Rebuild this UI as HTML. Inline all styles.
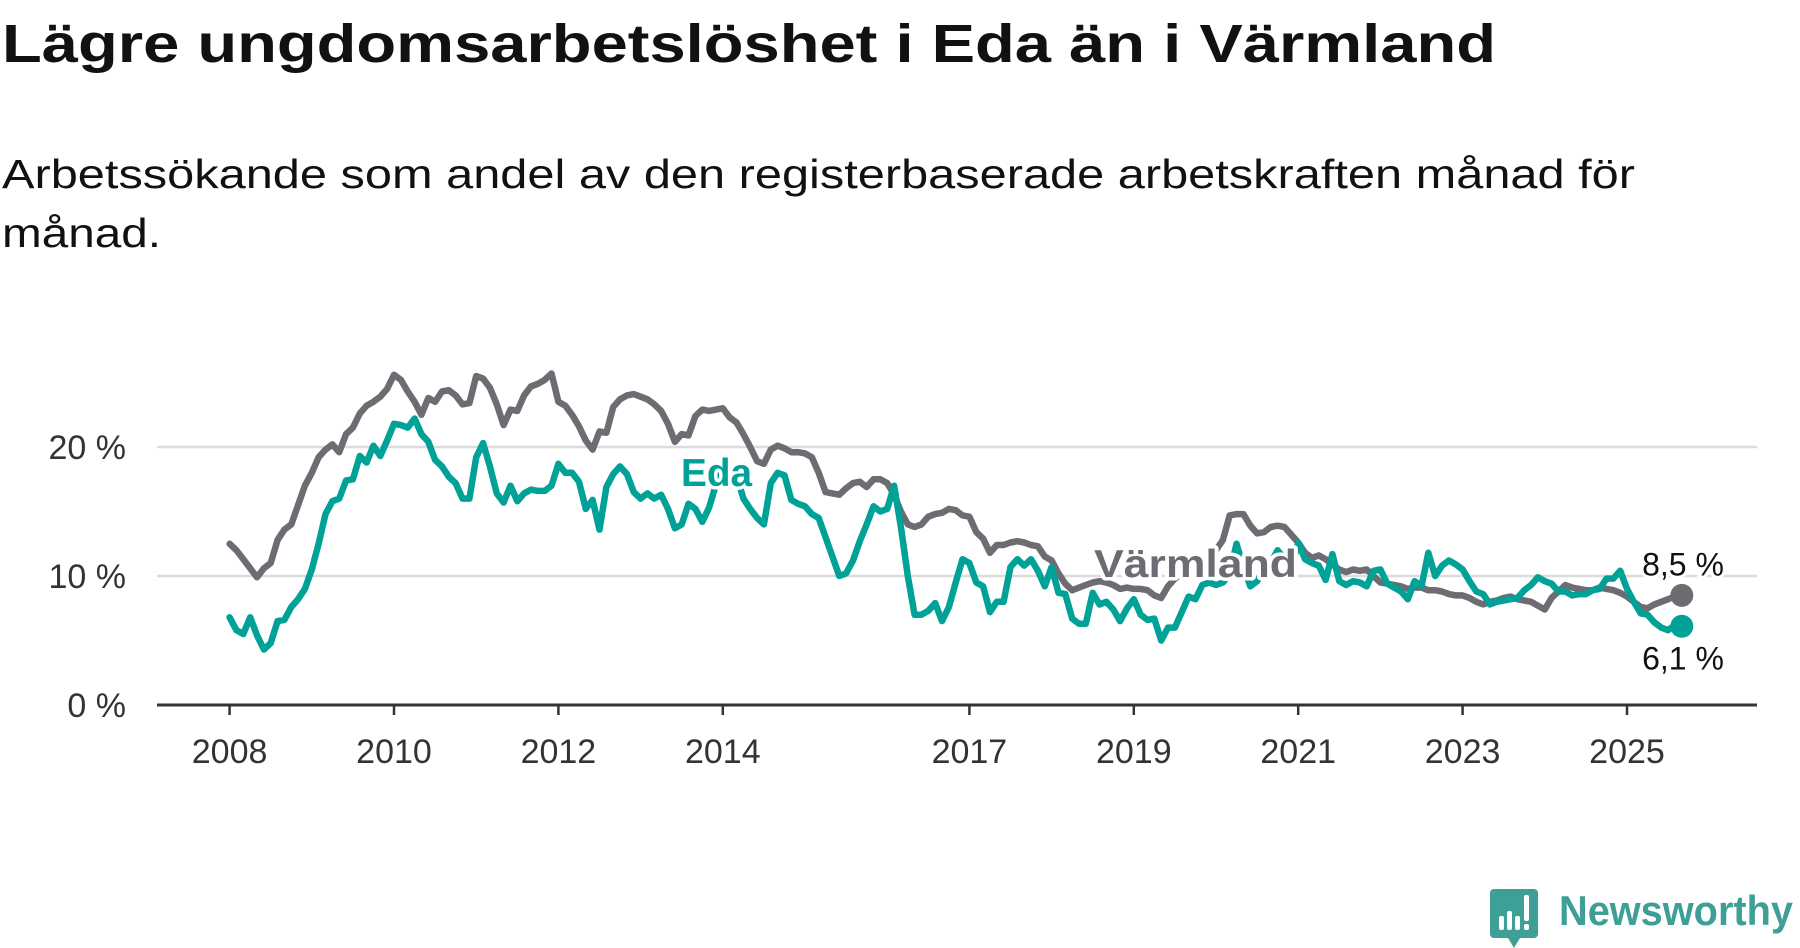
<!DOCTYPE html>
<html><head><meta charset="utf-8">
<style>
html,body{margin:0;padding:0;background:#fff;}
svg{display:block;font-family:"Liberation Sans",sans-serif;}
</style></head>
<body>
<svg id="chart" width="1800" height="948" viewBox="0 0 1800 948" xmlns="http://www.w3.org/2000/svg">
<text x="2" y="62" font-size="54" font-weight="bold" fill="#111" textLength="1494" lengthAdjust="spacingAndGlyphs">Lägre ungdomsarbetslöshet i Eda än i Värmland</text>
<text x="2" y="188" font-size="41" fill="#111" textLength="1633" lengthAdjust="spacingAndGlyphs">Arbetssökande som andel av den registerbaserade arbetskraften månad för</text>
<text x="2" y="247" font-size="41" fill="#111" textLength="159" lengthAdjust="spacingAndGlyphs">månad.</text>
<g id="grid"></g>
<g id="ylabels"></g>
<g id="xaxis"></g>
<g id="lines"></g>
<g id="labels"></g>
<g>
 <path d="M1494 889 h40 a4 4 0 0 1 4 4 v41 a4 4 0 0 1 -4 4 h-14 l-6 10 l-6 -10 h-14 a4 4 0 0 1 -4 -4 v-41 a4 4 0 0 1 4 -4z" fill="#3d9f96"/>
 <rect x="1499" y="916" width="5" height="14" rx="2" fill="#fff"/>
 <rect x="1507" y="911" width="5" height="19" rx="2" fill="#fff"/>
 <rect x="1515" y="916" width="5" height="14" rx="2" fill="#fff"/>
 <rect x="1524" y="895" width="5" height="26" rx="2" fill="#fff"/>
 <rect x="1524" y="924" width="5" height="6" rx="2" fill="#fff"/>
 <text x="1559" y="925" font-size="42" font-weight="bold" fill="#3d9f96" textLength="234" lengthAdjust="spacingAndGlyphs">Newsworthy</text>
</g>
</svg>
<script>
const startYear = 2008;
const yTicks = [0, 10, 20];
const yTickLabels = ["0 %", "10 %", "20 %"];
const xTickYears = [2008, 2010, 2012, 2014, 2017, 2019, 2021, 2023, 2025];
const varmland = [
12.5,12.0,11.3,10.6,9.9,10.6,11.0,12.8,13.6,14.0,15.5,17.0,
18.0,19.2,19.8,20.2,19.6,21.0,21.5,22.6,23.2,23.5,23.9,24.5,
25.6,25.2,24.3,23.5,22.5,23.8,23.5,24.3,24.4,24.0,23.3,23.4,
25.5,25.3,24.6,23.3,21.7,22.9,22.8,24.0,24.7,24.9,25.2,25.7,
23.5,23.2,22.5,21.6,20.5,19.8,21.2,21.1,23.1,23.7,24.0,24.1,
23.9,23.7,23.3,22.8,21.8,20.4,21.0,20.9,22.4,22.9,22.8,22.9,
23.0,22.3,21.9,21.0,20.0,18.9,18.7,19.8,20.1,19.9,19.6,19.6,
19.5,19.2,18.0,16.5,16.4,16.3,16.8,17.2,17.3,16.9,17.5,17.5,
17.2,16.3,15.0,14.0,13.8,14.0,14.6,14.8,14.9,15.2,15.1,14.7,
14.6,13.4,12.9,11.8,12.4,12.4,12.6,12.7,12.6,12.4,12.3,11.5,
11.2,10.2,9.4,8.9,9.1,9.3,9.5,9.6,9.5,9.3,9.0,9.1,
9.0,9.0,8.9,8.5,8.3,9.2,9.8,10.2,10.5,10.7,10.9,11.5,
12.0,12.8,14.7,14.8,14.8,13.9,13.3,13.4,13.8,13.9,13.8,13.2,
12.6,11.8,11.4,11.6,11.3,10.9,10.5,10.3,10.5,10.4,10.5,10.0,
9.5,9.4,9.3,9.2,9.0,9.1,9.1,8.9,8.9,8.8,8.6,8.5,
8.5,8.3,8.0,7.8,8.0,8.1,8.3,8.4,8.2,8.1,8.0,7.7,
7.4,8.3,8.8,9.3,9.1,9.0,8.9,8.9,9.1,9.0,8.9,8.7,
8.4,8.0,7.6,7.5,7.8,8.0,8.2,8.4,8.5];
const eda = [
6.8,5.8,5.5,6.8,5.4,4.3,4.8,6.5,6.6,7.6,8.2,9.0,
10.5,12.5,14.8,15.8,16.0,17.4,17.5,19.3,18.8,20.1,19.3,20.5,
21.8,21.7,21.5,22.2,21.0,20.4,19.0,18.5,17.7,17.2,16.0,16.0,
19.2,20.3,18.5,16.4,15.7,17.0,15.8,16.4,16.7,16.6,16.6,17.0,
18.7,18.0,18.0,17.3,15.2,15.9,13.6,16.9,17.9,18.5,17.9,16.5,
16.0,16.4,16.0,16.3,15.2,13.7,14.0,15.6,15.2,14.2,15.3,17.1,
18.6,18.2,17.8,16.0,15.2,14.5,14.0,17.2,18.0,17.8,15.9,15.6,
15.4,14.8,14.5,13.0,11.5,10.0,10.2,11.2,12.7,14.0,15.4,15.0,
15.2,17.0,13.8,10.0,7.0,7.0,7.3,7.9,6.5,7.6,9.5,11.3,
11.0,9.5,9.2,7.2,8.0,8.0,10.7,11.3,10.8,11.3,10.4,9.2,
10.7,8.7,8.6,6.7,6.3,6.3,8.7,7.8,8.0,7.4,6.5,7.5,
8.2,7.0,6.6,6.7,5.0,6.0,6.0,7.2,8.4,8.2,9.3,9.5,
9.3,9.5,10.2,12.5,10.7,9.2,9.6,10.5,11.0,12.0,11.3,10.6,
12.6,11.3,11.0,10.8,9.7,11.7,9.6,9.3,9.6,9.5,9.2,10.4,
10.5,9.4,9.1,8.8,8.2,9.6,9.2,11.8,10.0,10.8,11.2,10.9,
10.5,9.6,8.8,8.6,7.8,8.0,8.1,8.2,8.3,8.9,9.3,9.9,
9.6,9.4,8.8,8.8,8.5,8.6,8.6,8.9,9.0,9.8,9.8,10.4,
9.0,8.0,7.1,7.0,6.4,6.0,5.8,6.2,6.1];

const NS = "http://www.w3.org/2000/svg";
const X0 = 229.6, PX_PER_YEAR = 82.2;
const Y0 = 705, PX_PER_PCT = 12.9;
const PLOT_L = 157, PLOT_R = 1757;
function xScale(monthIndex){ return X0 + (monthIndex/12)*PX_PER_YEAR; }
function xYear(y){ return X0 + (y - startYear)*PX_PER_YEAR; }
function yScale(v){ return Y0 - v*PX_PER_PCT; }
function mk(tag, attrs, parent){
  const e = document.createElementNS(NS, tag);
  for (const k in attrs) e.setAttribute(k, attrs[k]);
  parent.appendChild(e); return e;
}
const grid = document.getElementById('grid');
const ylab = document.getElementById('ylabels');
yTicks.forEach((t,i)=>{
  if (t !== 0) {
    const l = mk('line',{x1:PLOT_L,x2:PLOT_R,y1:yScale(t),y2:yScale(t),stroke:'#dcdcdc','stroke-width':2.5},grid);
    
    
  }
  const tx = mk('text',{x:126,y:yScale(t)+12,'font-size':34,fill:'#333','text-anchor':'end'},ylab);
  tx.textContent = yTickLabels[i];
  
  
});
const xa = document.getElementById('xaxis');
const axisLine = mk('line',{x1:PLOT_L,x2:PLOT_R,y1:Y0,y2:Y0,stroke:'#333','stroke-width':3},xa);


xTickYears.forEach(y=>{
  const x = xYear(y);
  const t = mk('line',{x1:x,x2:x,y1:Y0,y2:Y0+10,stroke:'#333','stroke-width':2.5},xa);
  
  
  const tx = mk('text',{x:x,y:763,'font-size':34,fill:'#333','text-anchor':'middle'},xa);
  tx.textContent = String(y);
  
  
});
const lines = document.getElementById('lines');
function drawSeries(data, color, name){
  const d = data.map((v,i)=>(i?'L':'M')+xScale(i).toFixed(1)+' '+yScale(v).toFixed(1)).join(' ');
  const p = mk('path',{d:d,fill:'none',stroke:color,'stroke-width':6.5,'stroke-linejoin':'round','stroke-linecap':'round'},lines);
  
  
  const n = data.length-1;
  const c = mk('circle',{cx:xScale(n),cy:yScale(data[n]),r:11.5,fill:color},lines);
  
  
}
drawSeries(varmland,'#6d6c72','varmland');
drawSeries(eda,'#00a196','eda');
const lab = document.getElementById('labels');
function halo(txt,x,y,color,size,name,w){
  const a = mk('text',{x:x,y:y,'font-size':size,'font-weight':'bold',fill:'#fff',stroke:'#fff','stroke-width':7,'stroke-linejoin':'round',textLength:w,lengthAdjust:'spacingAndGlyphs'},lab);
  a.textContent = txt;
  const b = mk('text',{x:x,y:y,'font-size':size,'font-weight':'bold',fill:color,textLength:w,lengthAdjust:'spacingAndGlyphs'},lab);
  b.textContent = txt;
  
  
}
halo('Eda',681,486,'#00a196',39,'eda-label',71);
halo('Värmland',1094,577,'#6d6c72',39,'varmland-label',203);
const nV = varmland.length-1, nE = eda.length-1;
const e1 = mk('text',{x:1683,y:yScale(varmland[nV])-20,'font-size':32,fill:'#111','text-anchor':'middle',stroke:'#fff','stroke-width':6,'paint-order':'stroke'},lab);
e1.textContent = varmland[nV].toFixed(1).replace('.',',')+' %';


const e2 = mk('text',{x:1683,y:yScale(eda[nE])+43,'font-size':32,fill:'#111','text-anchor':'middle',stroke:'#fff','stroke-width':6,'paint-order':'stroke'},lab);
e2.textContent = eda[nE].toFixed(1).replace('.',',')+' %';


</script>
</body></html>
